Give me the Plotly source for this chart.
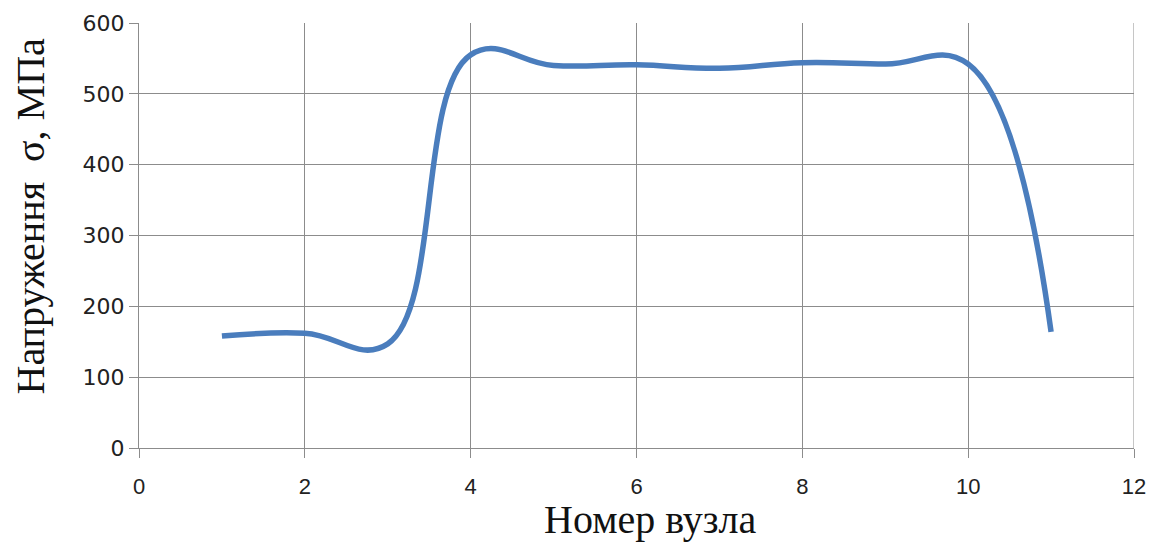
import plotly.graph_objects as go

# Node numbers and the stress computed at each node
nodes = [1, 2, 3, 4, 5, 6, 7, 8, 9, 10, 11]
stress = [158, 162, 147, 555, 540, 541, 536, 544, 542, 542, 164]

x_ticks = [0, 2, 4, 6, 8, 10, 12]
y_ticks = [0, 100, 200, 300, 400, 500, 600]

x_title = "Номер вузла"
y_title = "Напруження  σ, МПа"

grid = "#8c8c8c"
title_font = dict(family="Liberation Serif", size=40, color="#111")

fig = go.Figure(
    go.Scatter(
        x=nodes,
        y=stress,
        mode="lines",
        line=dict(color="#4a7dbd", width=5.5, shape="spline", smoothing=1.2),
        hoverinfo="x+y",
    )
)

fig.update_layout(
    width=1160,
    height=544,
    margin=dict(l=139, r=26, t=23, b=96),
    paper_bgcolor="white",
    plot_bgcolor="white",
    showlegend=False,
    xaxis=dict(
        range=[0, 12],
        tickvals=x_ticks,
        ticktext=[str(v) for v in x_ticks],
        showgrid=True,
        gridcolor=grid,
        gridwidth=1,
        zeroline=False,
        showline=True,
        linecolor=grid,
        ticks="outside",
        ticklen=9,
        tickcolor=grid,
        ticklabelstandoff=10,
        tickfont=dict(family="Liberation Sans Narrow, Liberation Sans", size=22, color="#222"),
    ),
    yaxis=dict(
        range=[0, 600],
        tickvals=y_ticks,
        showgrid=True,
        gridcolor=grid,
        gridwidth=1,
        zeroline=False,
        showline=True,
        linecolor=grid,
        ticks="outside",
        ticklen=9,
        tickcolor=grid,
        tickfont=dict(family="DejaVu Sans", size=22, color="#222"),
    ),
    annotations=[
        # Axis titles, placed relative to the plot area
        dict(
            text=x_title, font=title_font, showarrow=False,
            xref="paper", yref="paper", x=0.5136, y=-0.169,
            xanchor="center", yanchor="middle",
        ),
        dict(
            text=y_title, font=title_font, showarrow=False, textangle=-90,
            xref="paper", yref="paper", x=-0.109, y=0.546,
            xanchor="center", yanchor="middle",
        ),
    ],
)

# Right border of the plot area (the x = 12 gridline)
fig.add_shape(
    type="line", xref="x", yref="paper", x0=12, x1=12, y0=0, y1=1,
    line=dict(color=grid, width=1),
)

fig.write_html("out.html")
